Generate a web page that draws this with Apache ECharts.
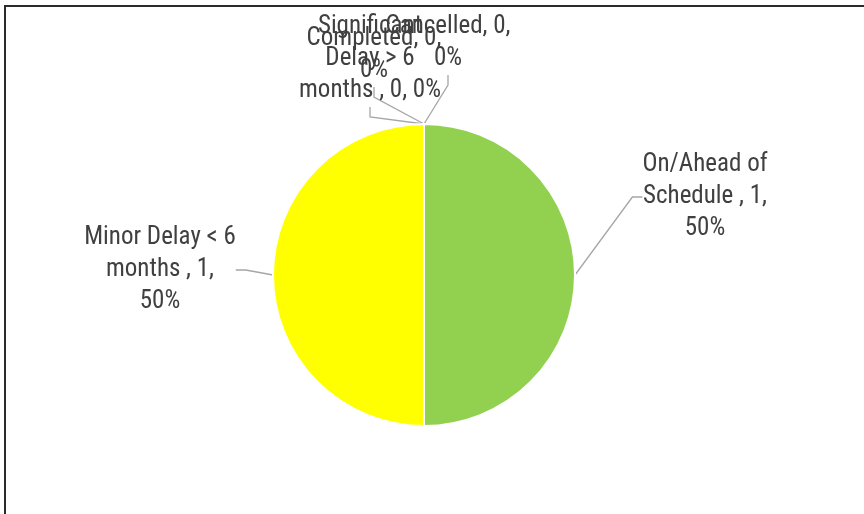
<!DOCTYPE html>
<html>
<head>
<meta charset="utf-8">
<script src="https://cdn.jsdelivr.net/npm/echarts@6/dist/echarts.min.js"></script>
<style>
	html, body { margin: 0; padding: 0; background: #fff; }
	#chart { width: 864px; height: 514px; }
</style>
</head>
<body>
<div id="chart"></div>
<script>
	// slice names (line breaks as in the original labels)
	var categories = ['On/Ahead of\nSchedule ', 'Minor Delay < 6\nmonths ', 'Significant\nDelay > 6\nmonths ', 'Completed', 'Cancelled']
	var values = [1, 1, 0, 0, 0]
	var colors = ['#92D050', '#FFFF00', '#F4B183', '#5B9BD5', '#A5A5A5']
	// separator placed before the percent in each label
	var pctSep = ['\n', '\n', ' ', '\n', '\n']
	// label block centres (x, y)
	var labelPos = [[705, 197], [160, 270], [370, 59], [374, 55], [448, 43]]

	var mychart = echarts.init(document.getElementById('chart'))
	var option = {
		animation: false,
		graphic: [{
			type: 'polyline',
			shape: { points: [[5, 514], [5, 6], [864, 6]] },
			style: { stroke: '#2b2b2b', lineWidth: 2, fill: null }
		}],
		series: [{
			type: 'pie',
			center: [424, 275],
			radius: 151,
			startAngle: 90,
			clockwise: true,
			avoidLabelOverlap: false,
			itemStyle: {
				borderColor: '#fff',
				borderWidth: 2
			},
			label: {
				show: true,
				position: 'outside',
				color: '#404040',
				fontFamily: 'Roboto Condensed, Arial Narrow, sans-serif',
				fontSize: 25,
				lineHeight: 32,
				align: 'center',
				formatter: function (p) {
					return p.name + ', ' + p.value + ',' + pctSep[p.dataIndex] + Math.round(p.percent) + '%'
				}
			},
			labelLine: {
				show: true,
				length: 20,
				length2: 10,
				lineStyle: { color: '#a6a6a6', width: 1.3 }
			},
			labelLayout: function (params) {
				var pos = labelPos[params.dataIndex]
				return {
					x: pos[0],
					y: pos[1],
					align: 'center',
					verticalAlign: 'middle'
				}
			},
			data: categories.map(function (name, i) {
				return { name: name, value: values[i], itemStyle: { color: colors[i] } }
			})
		}]
	}
	mychart.setOption(option)
</script>
</body>
</html>
